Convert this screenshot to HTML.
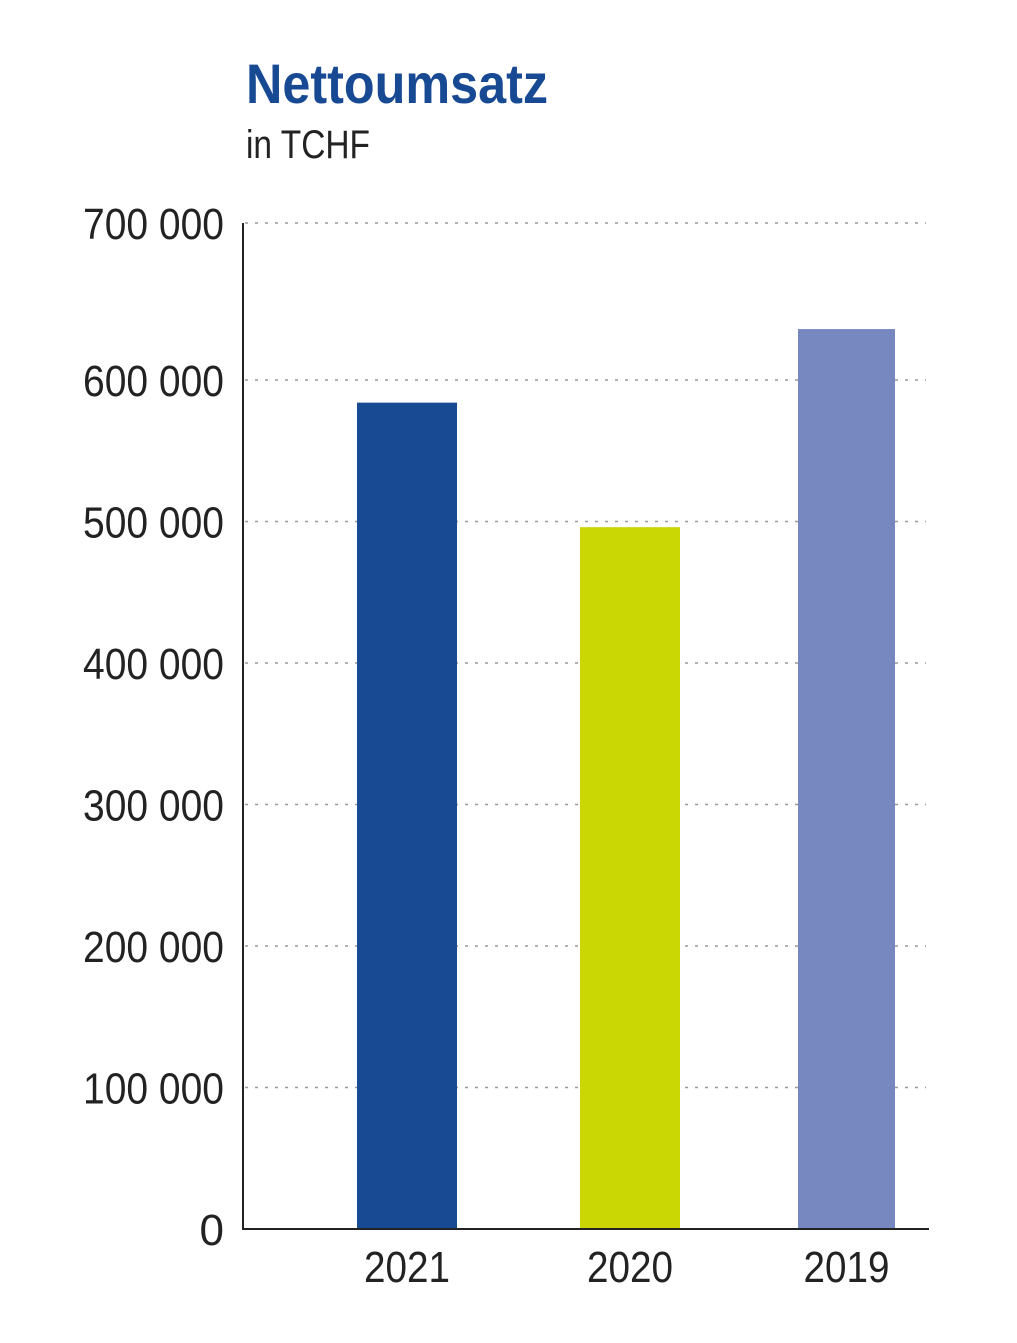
<!DOCTYPE html>
<html><head><meta charset="utf-8"><style>
html,body{margin:0;padding:0;background:#fff;}
svg text{font-family:"Liberation Sans Narrow","Liberation Sans",sans-serif;}
</style></head><body>
<svg id="chart" width="1017" height="1338" viewBox="0 0 1017 1338" xmlns="http://www.w3.org/2000/svg">
<text x="246" y="103" font-size="56" font-weight="bold" fill="#184a94" textLength="302" lengthAdjust="spacingAndGlyphs">Nettoumsatz</text>
<text x="246" y="158" font-size="40" fill="#222" textLength="124" lengthAdjust="spacingAndGlyphs">in TCHF</text>
<g id="grid"></g><g id="bars"></g><g id="labels"></g>
<line x1="243" y1="223" x2="243" y2="1230" stroke="#222" stroke-width="2"/>
<line x1="242" y1="1229" x2="929" y2="1229" stroke="#222" stroke-width="2"/>
</svg>
<script>
const categories=["2021","2020","2019"];
const values=[584000,496000,636000];
const colors=["#184a94","#cbd605","#7787c0"];
const tickValues=[0,100000,200000,300000,400000,500000,600000,700000];
const tickLabels=["0","100 000","200 000","300 000","400 000","500 000","600 000","700 000"];
const NS="http://www.w3.org/2000/svg";
const y0=1229,pxPer=(1229-380)/600000;
function y(v){return y0-v*pxPer;}
const barX=[357,580,798],barW=[100,100,97];
function x(i){return barX[i];}
const grid=document.getElementById('grid'),bars=document.getElementById('bars'),labels=document.getElementById('labels');
tickValues.forEach((v,i)=>{
  const yy=v===700000?223:y(v);
  if(v>0){
    const l=document.createElementNS(NS,'line');
    
    
    l.setAttribute('x1',245);l.setAttribute('x2',926);l.setAttribute('y1',yy);l.setAttribute('y2',yy);
    l.setAttribute('stroke','#999');l.setAttribute('stroke-width','1.5');l.setAttribute('stroke-dasharray','3 7');
    grid.appendChild(l);
  }
  const t=document.createElementNS(NS,'text');
  
  
  t.setAttribute('x',224);t.setAttribute('y',yy+16);t.setAttribute('text-anchor','end');
  t.setAttribute('font-size','44');t.setAttribute('fill','#222');
  if(tickLabels[i].length>1){t.setAttribute('textLength','141');t.setAttribute('lengthAdjust','spacingAndGlyphs');}
  t.textContent=tickLabels[i];labels.appendChild(t);
});
values.forEach((v,i)=>{
  const r=document.createElementNS(NS,'rect');
  
  
  r.setAttribute('x',x(i));r.setAttribute('y',y(v));r.setAttribute('width',barW[i]);r.setAttribute('height',y0-y(v));
  r.setAttribute('fill',colors[i]);bars.appendChild(r);
  const t=document.createElementNS(NS,'text');
  
  
  t.setAttribute('x',x(i)+barW[i]/2);t.setAttribute('y',1282);t.setAttribute('text-anchor','middle');
  t.setAttribute('font-size','44');t.setAttribute('fill','#222');
  t.setAttribute('textLength','86');t.setAttribute('lengthAdjust','spacingAndGlyphs');
  t.textContent=categories[i];labels.appendChild(t);
});
</script>
</body></html>
